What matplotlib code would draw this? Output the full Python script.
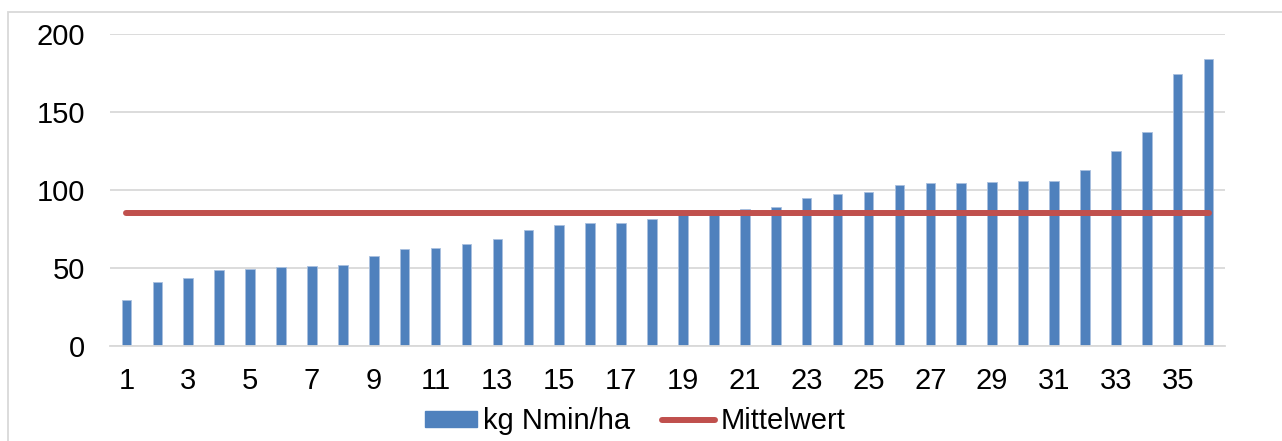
import matplotlib.pyplot as plt
import matplotlib.patches as mpatches
import numpy as np

plt.rcParams['font.family'] = ['Liberation Sans', 'DejaVu Sans']

# sample number and Nmin values
proben = list(range(1, 37))
nmin = [29.3, 41.2, 43.4, 48.5, 49.6, 50.9, 51.3, 51.7, 57.9, 62.2, 63.0, 65.2,
        68.6, 74.4, 77.8, 78.6, 78.8, 81.4, 85.0, 85.5, 87.6, 88.9, 95.1, 97.2,
        98.5, 103.4, 104.3, 104.3, 105.1, 105.8, 105.8, 112.8, 124.8, 137.2,
        174.4, 184.2]
mittelwert = 85.4
y_ticks = [0, 50, 100, 150, 200]
x_tick_labels = [str(p) for p in proben[::2]]

blue = '#4F81BD'
red = '#C0504D'
grid_col = '#D9D9D9'
fs = 21

fig = plt.figure(figsize=(12.82, 4.41), dpi=100)
ax = fig.add_axes([110 / 1282, 1 - 346 / 441, 1115 / 1282, 312 / 441])

# light frame around the whole chart like in the source
fig.patches.append(mpatches.Rectangle((8 / 1282, -0.1), 1.2, 1 - 12 / 441 + 0.1,
                                      transform=fig.transFigure, fill=False,
                                      edgecolor=grid_col, linewidth=1.3))

ax.bar(proben, nmin, width=0.31, color=blue, edgecolor='#A9C0DF', linewidth=0.6,
       label='kg Nmin/ha', zorder=2)
ax.plot([proben[0], proben[-1]], [mittelwert, mittelwert], color=red, linewidth=4.3,
        solid_capstyle='round', label='Mittelwert', zorder=3)

ax.set_xlim(0.47, 36.53)
ax.set_ylim(0, 200)
ax.set_yticks(y_ticks)
ax.set_xticks(proben[::2])
ax.set_xticklabels(x_tick_labels)
ax.yaxis.grid(True, color=grid_col, linewidth=1.3, zorder=0)
ax.set_axisbelow(True)
for s in ['top', 'right', 'left']:
    ax.spines[s].set_visible(False)
ax.spines['bottom'].set_color(grid_col)
ax.spines['bottom'].set_linewidth(1.3)
ax.tick_params(axis='both', length=0, labelsize=fs, colors='black')
ax.tick_params(axis='y', pad=18)
ax.tick_params(axis='x', pad=15)

handles = [mpatches.Patch(color=blue, label='kg Nmin/ha'),
           plt.Line2D([], [], color=red, linewidth=4.3, solid_capstyle='round',
                      label='Mittelwert')]
fig.legend(handles=handles, loc='center', bbox_to_anchor=(635 / 1282, 1 - 421 / 441),
           ncol=2, frameon=False, fontsize=fs, handlelength=1.8, handleheight=0.48,
           handletextpad=0.2, columnspacing=1.1, borderpad=0, borderaxespad=0)

plt.savefig('out.png', dpi=100)
